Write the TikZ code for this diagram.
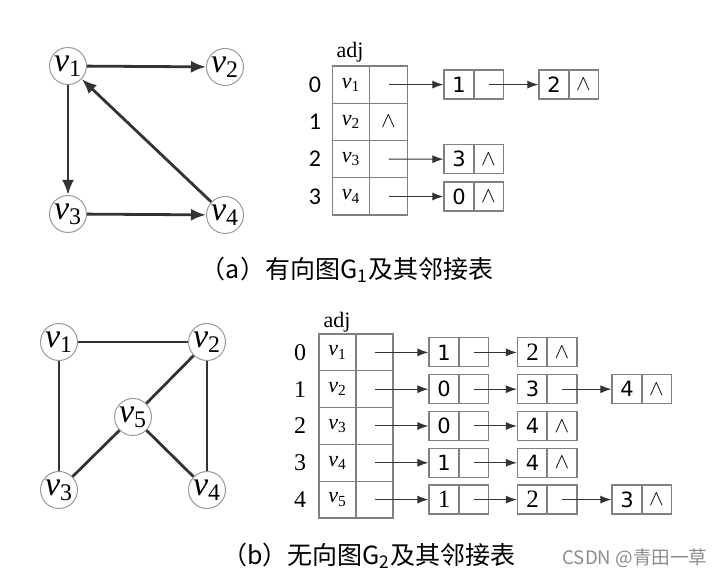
\documentclass[tikz,border=0pt]{standalone}
\usepackage{fontspec}
\setmainfont{Liberation Serif}
\newfontfamily\cjkfont{Noto Sans CJK SC}
\newfontfamily\numfont{DejaVu Sans}
\newfontfamily\idxfont{Carlito}
\usetikzlibrary{arrows.meta}
\definecolor{edgegray}{HTML}{333333}
\definecolor{boxgray}{HTML}{808080}
\newcommand{\vtx}[1]{\textit{v}\textsubscript{#1}}
\newcommand{\nil}{$\wedge$}

\tikzset{
	vert/.style={circle,draw=boxgray!80,line width=0.5pt,minimum size=18.5pt,inner sep=0pt,font=\fontsize{17}{17}\selectfont},
	arc/.style={draw=edgegray,line width=1.4pt},
	cell/.style={rectangle,draw=boxgray,line width=0.6pt,minimum width=18.7pt,minimum height=18.6pt,inner sep=0pt,font=\fontsize{11}{11}\selectfont},
	dat/.style={rectangle,draw=boxgray,line width=0.6pt,minimum width=15pt,minimum height=14.5pt,inner sep=0pt,font=\numfont\fontsize{10.5}{10.5}\selectfont},
	lnk/.style={draw=edgegray,line width=0.5pt,-{Latex[length=5.5pt,width=4pt]}},
}

\begin{document}
\begin{tikzpicture}[x=0.5pt,y=-0.5pt]
	\useasboundingbox (0,0) rectangle (724,582);
	
	% (a) directed graph
	\node[vert] at (68,66) (v1) {\vtx{1}};
	\node[vert] at (225,67) (v2) {\vtx{2}};
	\node[vert] at (68,214) (v3) {\vtx{3}};
	\node[vert] at (225,215) (v4) {\vtx{4}};
	
	\draw[arc,-{Latex[length=7.5pt,width=6pt]}] (v1) -- (v2);
	\draw[arc,-{Latex[length=7.5pt,width=6pt]}] (v1) -- (v3);
	\draw[arc,-{Latex[length=7.5pt,width=6pt]}] (v3) -- (v4);
	\draw[arc,-{Latex[length=7.5pt,width=6pt]}] (v4) -- (v1);
	
	% (a) adjacency list
	\node at (350,52) (adja) {\fontsize{11}{11}\selectfont adj};
	\foreach \i/\v/\p in {0/1/{},1/2/\nil,2/3/{},3/4/{}}
	{
		\node at (315,84.6+37.3*\i) (ai\i) {\idxfont\fontsize{12}{12}\selectfont\i};
		\node[cell] at (351,84.6+37.3*\i) (a\i) {\vtx{\v}};
		\node[cell] at (388.5,84.6+37.3*\i) (ap\i) {\p};
	}
	
	\foreach \n/\x/\y/\d/\p in {a01/459/84.6/1/{},a02/554/84.6/2/\nil,a21/459/159.2/3/\nil,a31/459/196.5/0/\nil}
	{
		\node[dat] at (\x,\y) (\n) {\d};
		\node[dat] at (\x+29.5,\y) (p\n) {\p};
	}
	
	\draw[lnk] (ap0.center) -- (a01.west);
	\draw[lnk] (pa01.center) -- (a02.west);
	\draw[lnk] (ap2.center) -- (a21.west);
	\draw[lnk] (ap3.center) -- (a31.west);
	
	\node at (347,270) (capa) {\cjkfont\fontsize{12.5}{12.5}\selectfont （a）有向图G\textsubscript{1}及其邻接表};
	
	% (b) undirected graph
	\node[vert] at (59,342) (u1) {\vtx{1}};
	\node[vert] at (207,342) (u2) {\vtx{2}};
	\node[vert] at (59,490) (u3) {\vtx{3}};
	\node[vert] at (207,490) (u4) {\vtx{4}};
	\node[vert] at (133,417) (u5) {\vtx{5}};
	
	\draw[arc] (u1) -- (u2);
	\draw[arc] (u1) -- (u3);
	\draw[arc] (u2) -- (u5);
	\draw[arc] (u2) -- (u4);
	\draw[arc] (u5) -- (u3);
	\draw[arc] (u5) -- (u4);
	
	% (b) adjacency list
	\node at (337,322) (adjb) {\fontsize{11}{11}\selectfont adj};
	\foreach \i in {0,...,4}
	{
		\pgfmathtruncatemacro{\v}{\i+1};
		\node at (300,352.4+36.8*\i) (bi\i) {\fontsize{12}{12}\selectfont\i};
		\node[cell,minimum width=18.5pt,minimum height=18.4pt] at (337.5,352.4+36.8*\i) (b\i) {\vtx{\v}};
		\node[cell,minimum width=18.5pt,minimum height=18.4pt] at (374.5,352.4+36.8*\i) (bp\i) {};
	}
	
	\foreach \n/\x/\y/\d/\p in {b01/444/352.4/1/{},b02/532.5/352.4/{\rmfamily\fontsize{12.5}{12.5}\selectfont 2}/\nil,
		b11/444/389.2/0/{},b12/532.5/389.2/3/{},b13/627/389.2/4/\nil,
		b21/444/426/0/{},b22/532.5/426/4/\nil,
		b31/444/462.8/1/{},b32/532.5/462.8/4/\nil,
		b41/444/499.6/{\rmfamily\fontsize{12.5}{12.5}\selectfont 1}/{},b42/532.5/499.6/{\rmfamily\fontsize{12.5}{12.5}\selectfont 2}/{},b43/627/499.6/3/\nil}
	{
		\node[dat] at (\x,\y) (\n) {\d};
		\node[dat] at (\x+29.5,\y) (p\n) {\p};
	}
	
	\foreach \r in {0,...,4}
	{
		\draw[lnk] (bp\r.center) -- (b\r1.west);
		\draw[lnk] (pb\r1.center) -- (b\r2.west);
	}
	\draw[lnk] (pb12.center) -- (b13.west);
	\draw[lnk] (pb42.center) -- (b43.west);
	
	\node at (369,556) (capb) {\cjkfont\fontsize{12.5}{12.5}\selectfont （b）无向图G\textsubscript{2}及其邻接表};
	\node[text=black!45] at (635,558) (mark) {\cjkfont\fontsize{9.3}{9.3}\selectfont CSDN @青田一草};
\end{tikzpicture}
\end{document}
